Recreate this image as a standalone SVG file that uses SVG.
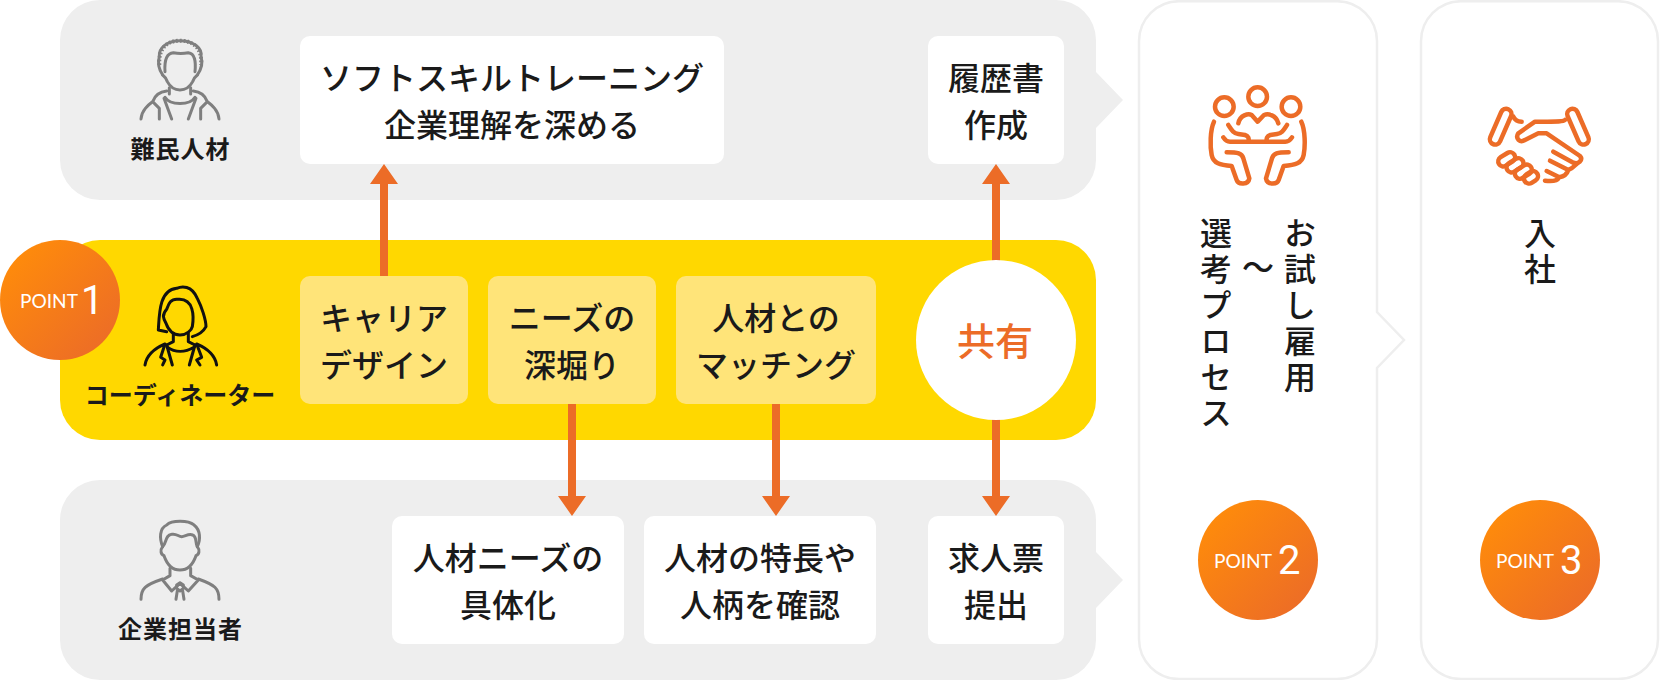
<svg xmlns="http://www.w3.org/2000/svg" width="1660" height="680" viewBox="0 0 1660 680">
<defs>
<linearGradient id="pg" x1="0.1" y1="0.1" x2="0.9" y2="0.9"><stop offset="0" stop-color="#FF8C0A"/><stop offset="1" stop-color="#EC6C27"/></linearGradient>
</defs>
<style>
text{font-family:"Noto Sans CJK JP","Noto Sans",sans-serif;fill:#1a1a1a}
.t{font-size:32px;text-anchor:middle;font-weight:500}
.l{font-size:24px;text-anchor:middle;font-weight:700}
.v{font-size:32px;writing-mode:vertical-rl;letter-spacing:4px;font-weight:500}
.gb{fill:#EEEEEE}.wb{fill:#fff}.yb{fill:#FFE479}
.w{fill:#fff;stroke:#EEEEEE;stroke-width:2.5}
.ic{fill:none;stroke-width:9;stroke-linecap:round;stroke-linejoin:round}
.g{stroke:#7f7f7f}.k{stroke:#111;stroke-width:9}.o{stroke:#EC6C27;stroke-width:13.5}
.a{fill:#EC6C27}
.p{font-family:Lato,"Open Sans",sans-serif;font-weight:400;font-size:20px;fill:#fff;text-anchor:start}
.n{font-family:Roboto,"Open Sans",sans-serif;font-weight:400;font-size:40px;fill:#fff;text-anchor:start}
</style>

<g id="panel-refugee">
<path class="gb" d="M100 0H1056A40 40 0 0 1 1096 40V72L1123 100L1096 128V160A40 40 0 0 1 1056 200H100A40 40 0 0 1 60 160V40A40 40 0 0 1 100 0Z"/>
</g>
<g id="panel-company">
<path class="gb" d="M100 480H1056A40 40 0 0 1 1096 520V552L1123 580L1096 608V640A40 40 0 0 1 1056 680H100A40 40 0 0 1 60 640V520A40 40 0 0 1 100 480Z"/>
</g>
<g id="panel-coordinator"><rect x="60" y="240" width="1036" height="200" rx="40" fill="#FFD800"/></g>

<g id="connectors">
<path class="a" d="M380 276V184H370L384 164L398 184H388V276Z"/>
<path class="a" d="M992 262V184H982L996 164L1010 184H1000V262Z"/>
<path class="a" d="M568 404V496H558L572 516L586 496H576V404Z"/>
<path class="a" d="M772 404V496H762L776 516L790 496H780V404Z"/>
<path class="a" d="M992 418V496H982L996 516L1010 496H1000V418Z"/>
</g>

<g id="person-refugee">
<g class="ic g" transform="translate(120,20) scale(.3333)">
<path d="M128 165C118 150 112 130 118 110C115 85 140 62 180 62C220 62 248 85 243 110C250 130 242 150 232 165"/>
<path d="M118 135C115 85 140 62 180 62C220 62 248 85 243 135" stroke-width="12" stroke-linecap="butt" stroke-dasharray="5 6"/>
<path d="M135 155C133 125 138 100 160 98C175 101 190 101 205 98C225 100 228 125 225 155"/>
<path d="M128 165C135 170 138 175 142 185C150 200 165 210 180 210C195 210 210 200 218 185C222 175 225 170 232 165"/>
<path d="M148 203V222M212 203V222M135 232C150 257 210 257 225 232"/>
<path d="M63 297C65 270 85 255 98 245C105 225 120 215 140 213M98 245L118 265V297M132 235L155 297"/>
<path d="M297 297C295 270 275 255 262 245C255 225 240 215 220 213M262 245L242 265V297M228 235L205 297"/>
</g>
<text class="l" x="180.500" y="158" letter-spacing="1">難民人材</text>
</g>

<g id="person-coordinator">
<g class="ic k" transform="translate(120,270) scale(.3333)">
<path d="M140 185L115 180C118 130 118 60 170 55C185 48 215 45 232 85C245 110 258 150 258 170C250 185 235 195 217 200"/>
<path d="M175 88C150 85 145 105 140 118C125 135 130 145 138 160C145 180 160 195 180 195C200 195 215 180 217 170C222 140 222 85 175 88Z"/>
<path d="M160 190V215L140 225M205 190V215L225 225M142 232C165 248 195 248 222 232"/>
<path d="M75 285C80 255 105 235 135 222L122 262L135 270L128 285M290 285C285 255 260 235 230 222L245 262L230 270L240 285"/>
<path d="M140 225L157 285M225 225L208 285"/>
</g>
<text class="l" x="180" y="404">コーディネーター</text>
</g>

<g id="person-company">
<g class="ic g" transform="translate(120,505) scale(.3333)">
<path d="M128 125C118 100 118 70 140 60C155 45 205 45 222 60C242 75 242 105 232 125"/>
<path d="M128 125C140 115 135 90 155 88C170 85 175 95 185 95C195 95 205 85 218 90C232 95 225 115 232 125"/>
<path d="M128 125C120 135 122 148 132 152C140 175 155 195 180 195C205 195 220 175 228 152C238 148 240 135 232 125"/>
<path d="M150 190V212L128 225L155 258L180 235L205 258L235 225L212 212V190"/>
<path d="M63 283C63 250 75 240 128 222M297 283C297 250 285 240 235 222"/>
<path d="M170 240L180 233L190 240L190 250L180 258L170 250ZM172 257L168 283M188 257L192 283"/>
</g>
<text class="l" x="180.500" y="638" letter-spacing="1">企業担当者</text>
</g>

<g id="box-softskill"><rect class="wb" x="300" y="36" width="424" height="128" rx="10"/>
<text class="t" x="512" y="90">ソフトスキルトレーニング</text><text class="t" x="512" y="137">企業理解を深める</text></g>
<g id="box-resume"><rect class="wb" x="928" y="36" width="136" height="128" rx="10"/>
<text class="t" x="996" y="90">履歴書</text><text class="t" x="996" y="137">作成</text></g>

<g id="box-career"><rect class="yb" x="300" y="276" width="168" height="128" rx="10"/>
<text class="t" x="384" y="330">キャリア</text><text class="t" x="384" y="377">デザイン</text></g>
<g id="box-needs"><rect class="yb" x="488" y="276" width="168" height="128" rx="10"/>
<text class="t" x="572" y="330">ニーズの</text><text class="t" x="572" y="377">深堀り</text></g>
<g id="box-matching"><rect class="yb" x="676" y="276" width="200" height="128" rx="10"/>
<text class="t" x="776" y="330">人材との</text><text class="t" x="776" y="377">マッチング</text></g>
<g id="node-share"><circle cx="996" cy="340" r="80" fill="#fff"/>
<text x="995" y="355" font-size="38" font-weight="500" text-anchor="middle" style="fill:#EC6C27">共有</text></g>

<g id="box-needs-detail"><rect class="wb" x="392" y="516" width="232" height="128" rx="10"/>
<text class="t" x="508" y="570">人材ニーズの</text><text class="t" x="508" y="617">具体化</text></g>
<g id="box-traits"><rect class="wb" x="644" y="516" width="232" height="128" rx="10"/>
<text class="t" x="760" y="570">人材の特長や</text><text class="t" x="760" y="617">人柄を確認</text></g>
<g id="box-joborder"><rect class="wb" x="928" y="516" width="136" height="128" rx="10"/>
<text class="t" x="996" y="570">求人票</text><text class="t" x="996" y="617">提出</text></g>

<g id="panel-selection">
<path class="w" d="M1179 1.200H1337A40 40 0 0 1 1377 41V312L1404 340L1377 368V639A40 40 0 0 1 1337 679H1179A40 40 0 0 1 1139 639V41A40 40 0 0 1 1179 1.200Z"/>
<g class="ic o" transform="translate(1190,80) scale(.3333)">
<circle cx="203" cy="50" r="28"/><circle cx="103" cy="80" r="28"/><circle cx="303" cy="80" r="28"/>
<path d="M145 130C150 105 175 100 185 105L203 125L222 105C235 100 258 105 265 130"/>
<path d="M100 172C105 180 110 185 120 185H286C296 185 301 180 306 172"/>
<path d="M115 135C125 150 130 160 145 162L165 165C175 168 178 175 175 185M291 135C281 150 276 160 261 162L241 165C231 168 228 175 231 185"/>
<path d="M72 125C60 150 60 200 65 225C70 250 90 255 125 258L140 300C145 315 175 315 178 295L160 235C155 220 145 217 110 217"/>
<path d="M334 125C346 150 346 200 341 225C336 250 316 255 281 258L266 300C261 315 231 315 228 295L246 235C251 220 261 217 296 217"/>
</g>
<text class="v" x="1300" y="217">お試し雇用</text>
<text class="t" x="1258" y="279">〜</text>
<text class="v" x="1216" y="217">選考プロセス</text>
</g>

<g id="panel-hire">
<rect class="w" x="1421" y="1.200" width="237" height="677.800" rx="40"/>
<g class="ic o" transform="translate(1470,90) scale(.3333)">
<rect x="-16" y="-57" width="32" height="114" rx="16" transform="translate(92,110) rotate(23.600)"/>
<rect x="-16" y="-57" width="32" height="114" rx="16" transform="translate(324,110) rotate(-23.600)"/>
<path d="M130 80C135 92 145 95 155 95"/>
<path d="M285 90C280 95 270 95 195 95L145 130C135 145 150 160 165 150L205 130H230L330 198C340 210 325 225 310 218L250 185"/>
<path d="M320 222C310 232 305 236 295 240L240 212M295 240C290 255 280 260 268 262L230 243M268 262C262 272 245 275 225 272"/>
<rect x="-27" y="-15" width="54" height="30" rx="15" transform="translate(110,208) rotate(-32)"/>
<rect x="-27" y="-15" width="54" height="30" rx="15" transform="translate(135,226) rotate(-32)"/>
<rect x="-27" y="-15" width="54" height="30" rx="15" transform="translate(160,245) rotate(-32)"/>
<rect x="-22" y="-15" width="44" height="30" rx="15" transform="translate(183,262) rotate(-32)"/>
</g>
<text class="v" x="1540" y="217">入社</text>
</g>

<g id="point-1"><circle cx="60" cy="300" r="60" fill="url(#pg)"/>
<text class="p" x="20" y="308" textLength="58" lengthAdjust="spacingAndGlyphs">POINT</text><text class="n" x="81" y="314">1</text></g>
<g id="point-2"><circle cx="1258" cy="560" r="60" fill="url(#pg)"/>
<text class="p" x="1214" y="568" textLength="58" lengthAdjust="spacingAndGlyphs">POINT</text><text class="n" x="1278" y="574">2</text></g>
<g id="point-3"><circle cx="1540" cy="560" r="60" fill="url(#pg)"/>
<text class="p" x="1496" y="568" textLength="58" lengthAdjust="spacingAndGlyphs">POINT</text><text class="n" x="1560" y="574">3</text></g>
</svg>
